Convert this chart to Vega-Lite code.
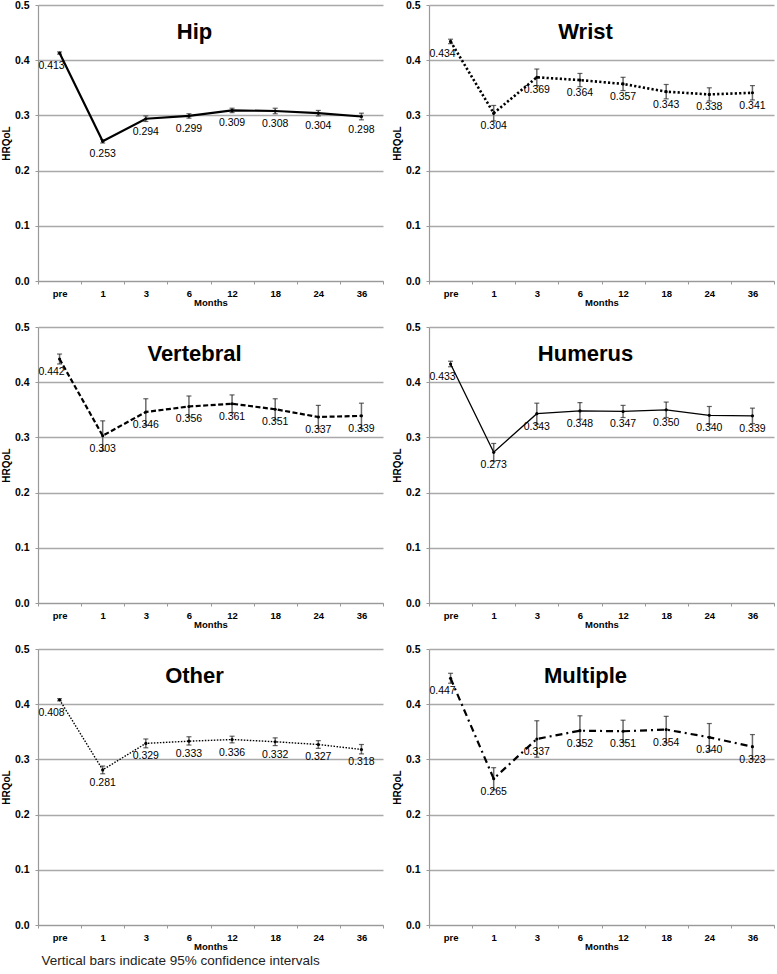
{
  "$schema": "https://vega.github.io/schema/vega-lite/v6.json",
  "background": "white",
  "padding": {"left": 1, "top": 0, "right": 0, "bottom": 0},
  "config": {
    "font": "Liberation Sans",
    "view": {"stroke": null},
    "title": {"fontSize": 22, "fontWeight": "bold", "color": "black", "anchor": "middle", "frame": "group", "offset": -44, "dx": -16},
    "axisX": {"labelAngle": 0, "labelFontWeight": "bold", "labelFontSize": 9.5, "labelColor": "black", "titleFontSize": 9.5, "titleFontWeight": "bold", "titleColor": "black", "titlePadding": 0, "tickBand": "extent", "tickSize": 3, "tickColor": "#999", "domainColor": "#999", "domainWidth": 1.2, "labelPadding": 4, "grid": false},
    "axisY": {"values": [0, 0.1, 0.2, 0.3, 0.4, 0.5], "format": ".1f", "labelFontWeight": "bold", "labelFontSize": 10.5, "labelColor": "black", "grid": true, "gridColor": "#a9a9a9", "gridWidth": 1.5, "domainColor": "#999", "domainWidth": 1.2, "tickSize": 3, "tickColor": "#999", "labelPadding": 6, "titleFontSize": 10, "titleFontWeight": "bold", "titleColor": "black", "titlePadding": 3}
  },
  "title": {"text": "Vertical bars indicate 95% confidence intervals", "orient": "bottom", "anchor": "start", "frame": "bounds", "fontSize": 13.5, "fontWeight": "normal", "color": "#222", "offset": 3, "dx": 40},
  "data": {"values": [
    {"g": "Hip", "m": "pre", "v": 0.413, "lo": 0.411, "hi": 0.415},
    {"g": "Hip", "m": "1", "v": 0.253, "lo": 0.250, "hi": 0.256},
    {"g": "Hip", "m": "3", "v": 0.294, "lo": 0.289, "hi": 0.299},
    {"g": "Hip", "m": "6", "v": 0.299, "lo": 0.295, "hi": 0.303},
    {"g": "Hip", "m": "12", "v": 0.309, "lo": 0.305, "hi": 0.313},
    {"g": "Hip", "m": "18", "v": 0.308, "lo": 0.303, "hi": 0.313},
    {"g": "Hip", "m": "24", "v": 0.304, "lo": 0.299, "hi": 0.309},
    {"g": "Hip", "m": "36", "v": 0.298, "lo": 0.292, "hi": 0.304},
    {"g": "Wrist", "m": "pre", "v": 0.434, "lo": 0.430, "hi": 0.438},
    {"g": "Wrist", "m": "1", "v": 0.304, "lo": 0.290, "hi": 0.318},
    {"g": "Wrist", "m": "3", "v": 0.369, "lo": 0.354, "hi": 0.384},
    {"g": "Wrist", "m": "6", "v": 0.364, "lo": 0.352, "hi": 0.376},
    {"g": "Wrist", "m": "12", "v": 0.357, "lo": 0.345, "hi": 0.369},
    {"g": "Wrist", "m": "18", "v": 0.343, "lo": 0.330, "hi": 0.356},
    {"g": "Wrist", "m": "24", "v": 0.338, "lo": 0.326, "hi": 0.350},
    {"g": "Wrist", "m": "36", "v": 0.341, "lo": 0.328, "hi": 0.354},
    {"g": "Vertebral", "m": "pre", "v": 0.442, "lo": 0.433, "hi": 0.451},
    {"g": "Vertebral", "m": "1", "v": 0.303, "lo": 0.276, "hi": 0.330},
    {"g": "Vertebral", "m": "3", "v": 0.346, "lo": 0.322, "hi": 0.370},
    {"g": "Vertebral", "m": "6", "v": 0.356, "lo": 0.337, "hi": 0.375},
    {"g": "Vertebral", "m": "12", "v": 0.361, "lo": 0.345, "hi": 0.377},
    {"g": "Vertebral", "m": "18", "v": 0.351, "lo": 0.332, "hi": 0.370},
    {"g": "Vertebral", "m": "24", "v": 0.337, "lo": 0.316, "hi": 0.358},
    {"g": "Vertebral", "m": "36", "v": 0.339, "lo": 0.316, "hi": 0.362},
    {"g": "Humerus", "m": "pre", "v": 0.433, "lo": 0.428, "hi": 0.438},
    {"g": "Humerus", "m": "1", "v": 0.273, "lo": 0.257, "hi": 0.289},
    {"g": "Humerus", "m": "3", "v": 0.343, "lo": 0.324, "hi": 0.362},
    {"g": "Humerus", "m": "6", "v": 0.348, "lo": 0.333, "hi": 0.363},
    {"g": "Humerus", "m": "12", "v": 0.347, "lo": 0.336, "hi": 0.358},
    {"g": "Humerus", "m": "18", "v": 0.350, "lo": 0.336, "hi": 0.364},
    {"g": "Humerus", "m": "24", "v": 0.340, "lo": 0.324, "hi": 0.356},
    {"g": "Humerus", "m": "36", "v": 0.339, "lo": 0.325, "hi": 0.353},
    {"g": "Other", "m": "pre", "v": 0.408, "lo": 0.406, "hi": 0.410},
    {"g": "Other", "m": "1", "v": 0.281, "lo": 0.274, "hi": 0.288},
    {"g": "Other", "m": "3", "v": 0.329, "lo": 0.321, "hi": 0.337},
    {"g": "Other", "m": "6", "v": 0.333, "lo": 0.326, "hi": 0.341},
    {"g": "Other", "m": "12", "v": 0.336, "lo": 0.330, "hi": 0.342},
    {"g": "Other", "m": "18", "v": 0.332, "lo": 0.325, "hi": 0.339},
    {"g": "Other", "m": "24", "v": 0.327, "lo": 0.320, "hi": 0.334},
    {"g": "Other", "m": "36", "v": 0.318, "lo": 0.310, "hi": 0.327},
    {"g": "Multiple", "m": "pre", "v": 0.447, "lo": 0.438, "hi": 0.456},
    {"g": "Multiple", "m": "1", "v": 0.265, "lo": 0.245, "hi": 0.285},
    {"g": "Multiple", "m": "3", "v": 0.337, "lo": 0.304, "hi": 0.370},
    {"g": "Multiple", "m": "6", "v": 0.352, "lo": 0.325, "hi": 0.379},
    {"g": "Multiple", "m": "12", "v": 0.351, "lo": 0.331, "hi": 0.371},
    {"g": "Multiple", "m": "18", "v": 0.354, "lo": 0.330, "hi": 0.378},
    {"g": "Multiple", "m": "24", "v": 0.340, "lo": 0.315, "hi": 0.365},
    {"g": "Multiple", "m": "36", "v": 0.323, "lo": 0.301, "hi": 0.345}
  ]},
  "columns": 2,
  "spacing": {"row": 15, "column": 8},
  "concat": [
    {
      "width": 345, "height": 276,
      "title": {"text": "Hip"},
      "transform": [{"filter": "datum.g == 'Hip'"}],
      "encoding": {
        "x": {"field": "m", "type": "ordinal", "sort": ["pre", "1", "3", "6", "12", "18", "24", "36"], "title": "Months", "scale": {"paddingInner": 0, "paddingOuter": 0}},
        "y": {"field": "v", "type": "quantitative", "title": "HRQoL", "scale": {"domain": [0, 0.5]}}
      },
      "layer": [
        {"mark": {"type": "rule", "color": "#6b6b6b", "strokeWidth": 1.5}, "encoding": {"y": {"field": "lo", "type": "quantitative", "title": "HRQoL", "scale": {"domain": [0, 0.5]}}, "y2": {"field": "hi"}}},
        {"mark": {"type": "tick", "color": "#222", "size": 5, "thickness": 1.2}, "encoding": {"y": {"field": "lo", "type": "quantitative", "title": "HRQoL", "scale": {"domain": [0, 0.5]}}}},
        {"mark": {"type": "tick", "color": "#222", "size": 5, "thickness": 1.2}, "encoding": {"y": {"field": "hi", "type": "quantitative", "title": "HRQoL", "scale": {"domain": [0, 0.5]}}}},
        {"mark": {"type": "line", "color": "black", "strokeWidth": 2.2}, "encoding": {}},
        {"mark": {"type": "point", "filled": true, "color": "black", "size": 10, "opacity": 1}},
        {"transform": [{"filter": "datum.m != 'pre'"}], "mark": {"type": "text", "dy": 13, "fontSize": 10.5, "color": "black"}, "encoding": {"text": {"field": "v", "format": ".3f"}}},
        {"transform": [{"filter": "datum.m == 'pre'"}], "mark": {"type": "text", "dy": 13, "dx": -8, "fontSize": 10.5, "color": "black"}, "encoding": {"text": {"field": "v", "format": ".3f"}}}
      ]
    },
    {
      "width": 345, "height": 276,
      "title": {"text": "Wrist"},
      "transform": [{"filter": "datum.g == 'Wrist'"}],
      "encoding": {
        "x": {"field": "m", "type": "ordinal", "sort": ["pre", "1", "3", "6", "12", "18", "24", "36"], "title": "Months", "scale": {"paddingInner": 0, "paddingOuter": 0}},
        "y": {"field": "v", "type": "quantitative", "title": "HRQoL", "scale": {"domain": [0, 0.5]}}
      },
      "layer": [
        {"mark": {"type": "rule", "color": "#6b6b6b", "strokeWidth": 1.5}, "encoding": {"y": {"field": "lo", "type": "quantitative", "title": "HRQoL", "scale": {"domain": [0, 0.5]}}, "y2": {"field": "hi"}}},
        {"mark": {"type": "tick", "color": "#222", "size": 5, "thickness": 1.2}, "encoding": {"y": {"field": "lo", "type": "quantitative", "title": "HRQoL", "scale": {"domain": [0, 0.5]}}}},
        {"mark": {"type": "tick", "color": "#222", "size": 5, "thickness": 1.2}, "encoding": {"y": {"field": "hi", "type": "quantitative", "title": "HRQoL", "scale": {"domain": [0, 0.5]}}}},
        {"mark": {"type": "line", "color": "black", "strokeWidth": 2.6, "strokeDash": [2.2, 2.2]}, "encoding": {}},
        {"mark": {"type": "point", "filled": true, "color": "black", "size": 10, "opacity": 1}},
        {"transform": [{"filter": "datum.m != 'pre'"}], "mark": {"type": "text", "dy": 13, "fontSize": 10.5, "color": "black"}, "encoding": {"text": {"field": "v", "format": ".3f"}}},
        {"transform": [{"filter": "datum.m == 'pre'"}], "mark": {"type": "text", "dy": 13, "dx": -8, "fontSize": 10.5, "color": "black"}, "encoding": {"text": {"field": "v", "format": ".3f"}}}
      ]
    },
    {
      "width": 345, "height": 276,
      "title": {"text": "Vertebral"},
      "transform": [{"filter": "datum.g == 'Vertebral'"}],
      "encoding": {
        "x": {"field": "m", "type": "ordinal", "sort": ["pre", "1", "3", "6", "12", "18", "24", "36"], "title": "Months", "scale": {"paddingInner": 0, "paddingOuter": 0}},
        "y": {"field": "v", "type": "quantitative", "title": "HRQoL", "scale": {"domain": [0, 0.5]}}
      },
      "layer": [
        {"mark": {"type": "rule", "color": "#6b6b6b", "strokeWidth": 1.5}, "encoding": {"y": {"field": "lo", "type": "quantitative", "title": "HRQoL", "scale": {"domain": [0, 0.5]}}, "y2": {"field": "hi"}}},
        {"mark": {"type": "tick", "color": "#222", "size": 5, "thickness": 1.2}, "encoding": {"y": {"field": "lo", "type": "quantitative", "title": "HRQoL", "scale": {"domain": [0, 0.5]}}}},
        {"mark": {"type": "tick", "color": "#222", "size": 5, "thickness": 1.2}, "encoding": {"y": {"field": "hi", "type": "quantitative", "title": "HRQoL", "scale": {"domain": [0, 0.5]}}}},
        {"mark": {"type": "line", "color": "black", "strokeWidth": 2.2, "strokeDash": [5, 2.5]}, "encoding": {}},
        {"mark": {"type": "point", "filled": true, "color": "black", "size": 10, "opacity": 1}},
        {"transform": [{"filter": "datum.m != 'pre'"}], "mark": {"type": "text", "dy": 13, "fontSize": 10.5, "color": "black"}, "encoding": {"text": {"field": "v", "format": ".3f"}}},
        {"transform": [{"filter": "datum.m == 'pre'"}], "mark": {"type": "text", "dy": 13, "dx": -8, "fontSize": 10.5, "color": "black"}, "encoding": {"text": {"field": "v", "format": ".3f"}}}
      ]
    },
    {
      "width": 345, "height": 276,
      "title": {"text": "Humerus"},
      "transform": [{"filter": "datum.g == 'Humerus'"}],
      "encoding": {
        "x": {"field": "m", "type": "ordinal", "sort": ["pre", "1", "3", "6", "12", "18", "24", "36"], "title": "Months", "scale": {"paddingInner": 0, "paddingOuter": 0}},
        "y": {"field": "v", "type": "quantitative", "title": "HRQoL", "scale": {"domain": [0, 0.5]}}
      },
      "layer": [
        {"mark": {"type": "rule", "color": "#6b6b6b", "strokeWidth": 1.5}, "encoding": {"y": {"field": "lo", "type": "quantitative", "title": "HRQoL", "scale": {"domain": [0, 0.5]}}, "y2": {"field": "hi"}}},
        {"mark": {"type": "tick", "color": "#222", "size": 5, "thickness": 1.2}, "encoding": {"y": {"field": "lo", "type": "quantitative", "title": "HRQoL", "scale": {"domain": [0, 0.5]}}}},
        {"mark": {"type": "tick", "color": "#222", "size": 5, "thickness": 1.2}, "encoding": {"y": {"field": "hi", "type": "quantitative", "title": "HRQoL", "scale": {"domain": [0, 0.5]}}}},
        {"mark": {"type": "line", "color": "black", "strokeWidth": 1.3}, "encoding": {}},
        {"mark": {"type": "point", "filled": true, "color": "black", "size": 10, "opacity": 1}},
        {"transform": [{"filter": "datum.m != 'pre'"}], "mark": {"type": "text", "dy": 13, "fontSize": 10.5, "color": "black"}, "encoding": {"text": {"field": "v", "format": ".3f"}}},
        {"transform": [{"filter": "datum.m == 'pre'"}], "mark": {"type": "text", "dy": 13, "dx": -8, "fontSize": 10.5, "color": "black"}, "encoding": {"text": {"field": "v", "format": ".3f"}}}
      ]
    },
    {
      "width": 345, "height": 276,
      "title": {"text": "Other"},
      "transform": [{"filter": "datum.g == 'Other'"}],
      "encoding": {
        "x": {"field": "m", "type": "ordinal", "sort": ["pre", "1", "3", "6", "12", "18", "24", "36"], "title": "Months", "scale": {"paddingInner": 0, "paddingOuter": 0}},
        "y": {"field": "v", "type": "quantitative", "title": "HRQoL", "scale": {"domain": [0, 0.5]}}
      },
      "layer": [
        {"mark": {"type": "rule", "color": "#6b6b6b", "strokeWidth": 1.5}, "encoding": {"y": {"field": "lo", "type": "quantitative", "title": "HRQoL", "scale": {"domain": [0, 0.5]}}, "y2": {"field": "hi"}}},
        {"mark": {"type": "tick", "color": "#222", "size": 5, "thickness": 1.2}, "encoding": {"y": {"field": "lo", "type": "quantitative", "title": "HRQoL", "scale": {"domain": [0, 0.5]}}}},
        {"mark": {"type": "tick", "color": "#222", "size": 5, "thickness": 1.2}, "encoding": {"y": {"field": "hi", "type": "quantitative", "title": "HRQoL", "scale": {"domain": [0, 0.5]}}}},
        {"mark": {"type": "line", "color": "black", "strokeWidth": 1.4, "strokeDash": [1.5, 1.5]}, "encoding": {}},
        {"mark": {"type": "point", "filled": true, "color": "black", "size": 10, "opacity": 1}},
        {"transform": [{"filter": "datum.m != 'pre'"}], "mark": {"type": "text", "dy": 13, "fontSize": 10.5, "color": "black"}, "encoding": {"text": {"field": "v", "format": ".3f"}}},
        {"transform": [{"filter": "datum.m == 'pre'"}], "mark": {"type": "text", "dy": 13, "dx": -8, "fontSize": 10.5, "color": "black"}, "encoding": {"text": {"field": "v", "format": ".3f"}}}
      ]
    },
    {
      "width": 345, "height": 276,
      "title": {"text": "Multiple"},
      "transform": [{"filter": "datum.g == 'Multiple'"}],
      "encoding": {
        "x": {"field": "m", "type": "ordinal", "sort": ["pre", "1", "3", "6", "12", "18", "24", "36"], "title": "Months", "scale": {"paddingInner": 0, "paddingOuter": 0}},
        "y": {"field": "v", "type": "quantitative", "title": "HRQoL", "scale": {"domain": [0, 0.5]}}
      },
      "layer": [
        {"mark": {"type": "rule", "color": "#6b6b6b", "strokeWidth": 1.5}, "encoding": {"y": {"field": "lo", "type": "quantitative", "title": "HRQoL", "scale": {"domain": [0, 0.5]}}, "y2": {"field": "hi"}}},
        {"mark": {"type": "tick", "color": "#222", "size": 5, "thickness": 1.2}, "encoding": {"y": {"field": "lo", "type": "quantitative", "title": "HRQoL", "scale": {"domain": [0, 0.5]}}}},
        {"mark": {"type": "tick", "color": "#222", "size": 5, "thickness": 1.2}, "encoding": {"y": {"field": "hi", "type": "quantitative", "title": "HRQoL", "scale": {"domain": [0, 0.5]}}}},
        {"mark": {"type": "line", "color": "black", "strokeWidth": 2.2, "strokeDash": [7, 4, 2, 4]}, "encoding": {}},
        {"mark": {"type": "point", "filled": true, "color": "black", "size": 10, "opacity": 1}},
        {"transform": [{"filter": "datum.m != 'pre'"}], "mark": {"type": "text", "dy": 13, "fontSize": 10.5, "color": "black"}, "encoding": {"text": {"field": "v", "format": ".3f"}}},
        {"transform": [{"filter": "datum.m == 'pre'"}], "mark": {"type": "text", "dy": 13, "dx": -8, "fontSize": 10.5, "color": "black"}, "encoding": {"text": {"field": "v", "format": ".3f"}}}
      ]
    }
  ]
}
